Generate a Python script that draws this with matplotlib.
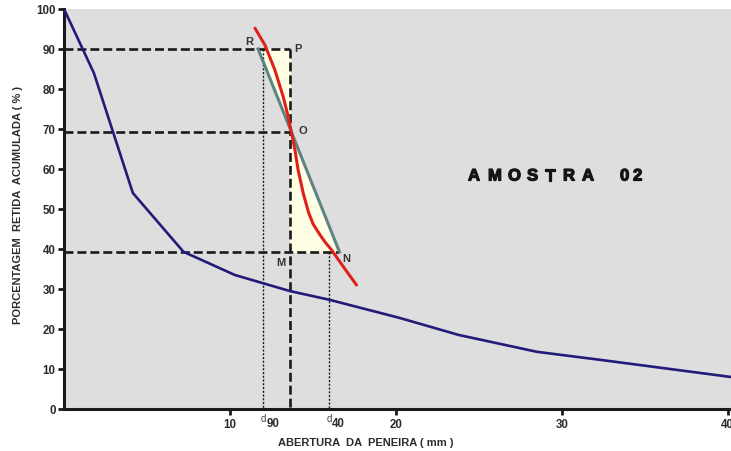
import os
import numpy as np
import matplotlib
matplotlib.use("Agg")
import matplotlib.pyplot as plt
from matplotlib import font_manager as fm
from matplotlib import patheffects as pe

plt.rcParams['font.family'] = ['Liberation Sans', 'DejaVu Sans']

# pick the regular-width Liberation Sans bold file explicitly
bold_file = None
for f in fm.findSystemFonts():
    if os.path.basename(f) == 'LiberationSans-Bold.ttf':
        bold_file = f
        break
if bold_file:
    fm.fontManager.addfont(bold_file)
    B = fm.FontProperties(fname=bold_file)
else:
    B = fm.FontProperties(family='DejaVu Sans', weight='bold')

# granulometric curve (blue)
abertura = [0.0, 1.8, 4.15, 7.2, 10.3, 13.6, 16.0, 20.2, 23.8, 28.5, 32.3, 40.2]
retida = [100.0, 84.0, 54.0, 39.3, 33.5, 29.5, 27.3, 22.8, 18.5, 14.3, 12.3, 8.0]

# zoomed local curve (red)
red_x = [11.51, 12.11, 12.71, 13.21, 13.51, 13.72, 13.92, 14.11, 14.42,
         14.75, 15.02, 15.42, 15.72, 16.13, 16.83, 17.63]
red_y = [95.2, 91.0, 84.75, 78.1, 73.1, 68.9, 64.75, 59.75, 53.9,
         49.0, 46.2, 43.6, 41.8, 39.75, 35.6, 31.0]

# construction points
pts = {'R': (11.7, 90.0), 'P': (13.6, 90.0), 'O': (13.6, 69.3),
       'M': (13.6, 39.3), 'N': (16.6, 39.3)}
d90 = 12.0
d40 = 15.95

titulo = 'AMOSTRA02'
# pixel offset of each letter from the first one
titulo_dx = [0, 20, 40, 59, 77, 95, 114, 152, 165]

fig = plt.figure(figsize=(7.31, 4.51), dpi=100)
ax = fig.add_axes([64 / 731, 42 / 451, 667 / 731, 400 / 451])
ax.set_facecolor('#dedede')

R, P, O, M, N = (pts[k] for k in 'RPOMN')
ax.fill([R[0], P[0], O[0]], [R[1], P[1], O[1]], color='#ffffe6', zorder=1)
ax.fill([O[0], M[0], N[0]], [O[1], M[1], N[1]], color='#ffffe6', zorder=1)

dash = dict(color='#1a1a1a', lw=1.9, dashes=(3.4, 1.5), zorder=2)
ax.plot([0, P[0]], [P[1], P[1]], **dash)
ax.plot([0, O[0]], [O[1], O[1]], **dash)
ax.plot([0, N[0]], [N[1], N[1]], **dash)
ax.plot([P[0], P[0]], [P[1], 0], **dash)

dot = dict(color='#1a1a1a', lw=1.0, ls=(0, (1.5, 1.2)), zorder=2)
ax.plot([d90, d90], [R[1], 0], **dot)
ax.plot([d40, d40], [N[1], 0], **dot)

ax.plot([R[0], N[0]], [R[1], N[1]], color='#5d8384', lw=2.2, zorder=3)
ax.plot(abertura, retida, color='#221b78', lw=1.9, zorder=3)
ax.plot(red_x, red_y, color='#e0211b', lw=2.2, zorder=4,
        solid_capstyle='round', solid_joinstyle='round')

lab = dict(fontproperties=B, fontsize=8, color='#333333')
ax.text(R[0] - 0.3, R[1] + 1.7, 'R', ha='right', va='center', **lab)
ax.text(P[0] + 0.25, P[1], 'P', ha='left', va='center', **lab)
ax.text(O[0] + 0.55, O[1] + 0.2, 'O', ha='left', va='center', **lab)
ax.text(M[0] - 0.25, M[1] - 2.8, 'M', ha='right', va='center', **lab)
ax.text(N[0] + 0.2, N[1] - 1.8, 'N', ha='left', va='center', **lab)

# spaced-out sample title (heavy, like Arial Black)
x0, y0 = 468, 176
for ch, dx in zip(titulo, titulo_dx):
    fig.text((x0 + dx) / 731, 1 - y0 / 451, ch, fontproperties=B,
             fontsize=12, color='#151515', ha='left', va='center',
             path_effects=[pe.withStroke(linewidth=0.9, foreground='#151515')])

ax.set_xlim(0, 40.2)
ax.set_ylim(0, 100)
ax.set_xticks([10, 20, 30, 40])
ax.set_yticks(range(0, 101, 10))
ax.tick_params(direction='out', length=4, width=2, color='#1a1a1a', pad=3)
for t in ax.get_xticklabels() + ax.get_yticklabels():
    t.set_fontproperties(B)
    t.set_fontsize(8.3)
    t.set_color('#2b2b2b')
ax.yaxis.set_tick_params(pad=2)
for s in ['top', 'right']:
    ax.spines[s].set_visible(False)
for s in ['left', 'bottom']:
    ax.spines[s].set_linewidth(2.2)
    ax.spines[s].set_color('#1a1a1a')

# d90 / d40 labels under the axis
for xv, sub in [(d90, '90'), (d40, '40')]:
    ax.text(xv + 0.2, -2.6, 'd', fontsize=7, color='#444444',
            ha='right', va='center', clip_on=False)
    ax.text(xv + 0.2, -3.7, sub, fontproperties=B, fontsize=8.3,
            color='#2b2b2b', ha='left', va='center', clip_on=False)

ax.set_xlabel('ABERTURA  DA  PENEIRA ( mm )', fontproperties=B, fontsize=8,
              color='#2b2b2b')
ax.xaxis.set_label_coords((366 - 64) / 667, -0.073)
ax.set_ylabel('PORCENTAGEM  RETIDA  ACUMULADA ( % )', fontproperties=B,
              fontsize=8, color='#2b2b2b')
ax.yaxis.set_label_coords(-(64 - 23) / 667, (409 - 205) / 400)

fig.savefig('out.png', dpi=100)
